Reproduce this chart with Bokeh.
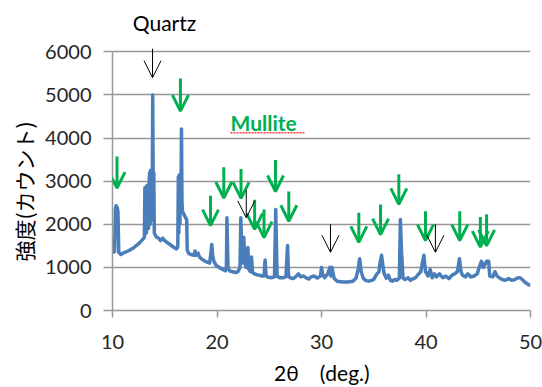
from bokeh.plotting import figure
from bokeh.models import Range1d, FixedTicker, Arrow, OpenHead, ColumnDataSource, Title
from bokeh.core.properties import value
from bokeh.embed import file_html
from bokeh.resources import INLINE

# ---- XRD pattern (2theta in degrees, intensity in counts) ----
two_theta = [
    10.0, 10.2, 10.28, 10.35, 10.45, 10.52, 10.6, 10.8, 11.0, 11.5, 12.0, 12.5, 12.9, 13.05,
    13.1, 13.15, 13.2, 13.25, 13.3, 13.35, 13.4, 13.45, 13.5, 13.55, 13.6, 13.65, 13.7,
    13.75, 13.8, 13.85, 13.9, 13.95, 14.0, 14.1, 14.2, 14.4, 14.6, 14.8, 15.0, 15.2, 15.5,
    15.8, 16.1, 16.2, 16.25, 16.3, 16.35, 16.4, 16.45, 16.5, 16.55, 16.6, 16.65, 16.7, 16.8,
    16.9, 17.0, 17.1, 17.15, 17.3, 17.5, 17.8, 17.9, 18.0, 18.2, 18.3, 18.5, 18.8, 19.0,
    19.3, 19.4, 19.5, 19.6, 19.7, 19.9, 20.2, 20.5, 20.8, 20.9, 20.95, 21.05, 21.2, 21.5,
    21.8, 22.0, 22.2, 22.28, 22.4, 22.5, 22.57, 22.65, 22.8, 22.95, 23.05, 23.2, 23.3, 23.4,
    23.6, 23.8, 24.0, 24.3, 24.5, 24.6, 24.7, 24.9, 25.2, 25.5, 25.62, 25.75, 26.0, 26.3,
    26.6, 26.75, 26.85, 27.0, 27.3, 27.6, 27.8, 28.0, 28.3, 28.5, 28.8, 29.0, 29.3, 29.6,
    29.9, 30.0, 30.1, 30.3, 30.6, 30.8, 30.9, 31.0, 31.2, 31.5, 32.0, 32.5, 33.0, 33.3,
    33.5, 33.65, 33.8, 34.0, 34.2, 34.5, 34.8, 35.0, 35.3, 35.5, 35.6, 35.75, 35.9, 36.0,
    36.2, 36.4, 36.6, 36.8, 37.0, 37.2, 37.45, 37.55, 37.65, 37.8, 38.0, 38.3, 38.5, 38.8,
    39.0, 39.3, 39.5, 39.65, 39.8, 39.95, 40.2, 40.4, 40.6, 40.8, 41.0, 41.3, 41.6, 41.9,
    42.2, 42.5, 42.8, 43.0, 43.2, 43.35, 43.5, 43.8, 44.0, 44.3, 44.6, 44.9, 45.1, 45.3,
    45.5, 45.6, 45.8, 46.0, 46.1, 46.4, 46.6, 46.8, 47.0, 47.3, 47.6, 47.9, 48.2, 48.5,
    48.8, 49.0, 49.2, 49.5, 49.8, 50.0,
]
intensity = [
    1350, 1360, 2350, 2430, 2380, 2300, 1350, 1300, 1330, 1380, 1450, 1550, 1650, 1700,
    2850, 1800, 2850, 1800, 2900, 1900, 2900, 1900, 2950, 3200, 2000, 3250, 2100,
    3200, 2500, 5000, 2500, 3200, 1800, 1750, 1700, 1680, 1620, 1680, 1620, 1580, 1530,
    1480, 1430, 1450, 1500, 3100, 1800, 3150, 2000, 3000, 2500, 4210, 2500, 2300, 2250,
    2200, 2150, 2100, 1400, 1320, 1300, 1280, 1380, 1280, 1330, 1250, 1200, 1150, 1130,
    1100, 1300, 1530, 1250, 1150, 1050, 1000, 960, 920, 1000, 2150, 1000, 920, 900,
    880, 900, 1000, 2150, 1100, 1350, 1700, 1100, 1000, 1460, 950, 900, 1240, 880,
    850, 830, 820, 800, 800, 1170, 800, 770, 760, 780, 2340, 800, 760, 760,
    780, 1510, 800, 760, 740, 800, 850, 780, 800, 760, 730, 780, 800, 750,
    800, 1000, 850, 760, 850, 1000, 800, 1000, 750, 680, 660, 660, 680, 750,
    950, 1200, 900, 750, 700, 680, 700, 720, 850, 900, 1100, 1280, 1000, 850,
    750, 820, 700, 680, 720, 700, 750, 2110, 1400, 750, 720, 760, 700, 740,
    760, 850, 900, 1100, 1280, 900, 800, 950, 760, 850, 780, 850, 760, 800,
    740, 820, 860, 900, 1200, 900, 820, 780, 850, 780, 800, 850, 1000, 1140,
    1000, 1050, 1140, 1140, 800, 780, 900, 800, 760, 720, 700, 740, 700, 720,
    760, 760, 720, 650, 600, 580,
]

# ---- peak markers (arrow x, tail intensity, tip intensity) ----
mullite_x = [10.43, 16.5, 19.38, 20.65, 22.3, 23.6, 24.5, 25.6, 26.87,
             33.57, 35.65, 37.4, 39.95, 43.23, 45.2, 45.8]
mullite_tail = [3570, 5380, 2660, 3320, 3280, 2570, 2340, 3490, 2760,
                2270, 2460, 3160, 2300, 2300, 2170, 2230]
mullite_tip = [2840, 4625, 1970, 2610, 2600, 1880, 1690, 2760, 2070,
               1580, 1760, 2460, 1620, 1620, 1470, 1500]

quartz_x = [13.83, 22.8, 30.86, 40.9]
quartz_tail = [6070, 2790, 2000, 2000]
quartz_tip = [5400, 2150, 1350, 1350]

# ---- annotation texts ----
quartz_label = ["Quartz"]
quartz_label_x = [14.98]
quartz_label_y = [6687]
mullite_label = ["Mullite"]
mullite_label_x = [21.29]
mullite_label_y = [4360]
underline_x = [21.29, 28.47]
underline_y = [4120]
y_title = "強度(カウント)"
x_title = "2θ\u3000(deg.)"

x_ticks = [10, 20, 30, 40, 50]
y_ticks = [0, 1000, 2000, 3000, 4000, 5000, 6000]

GREEN = "#00B050"
BLUE = "#4A7EBB"
GRID = "#979797"
TXT = "#262626"
LATIN = "Lato"

p = figure(width=542, height=387, output_backend="svg", toolbar_location=None,
           x_range=Range1d(10, 50), y_range=Range1d(0, 7190),
           min_border_left=112, min_border_right=12, min_border_top=0, min_border_bottom=73)
p.outline_line_color = None
p.background_fill_color = "white"
p.border_fill_color = "white"

# axes
p.xaxis.ticker = FixedTicker(ticks=x_ticks)
p.yaxis.ticker = FixedTicker(ticks=y_ticks)
p.xaxis.bounds = (x_ticks[0], x_ticks[-1])
p.yaxis.bounds = (y_ticks[0], y_ticks[-1])
for ax in (p.xaxis, p.yaxis):
    ax.axis_line_color = GRID
    ax.axis_line_width = 1.5
    ax.major_tick_line_color = GRID
    ax.major_tick_line_width = 1.5
    ax.minor_tick_line_color = None
    ax.major_tick_in = 0
    ax.major_label_text_font = LATIN
    ax.major_label_text_font_size = "20px"
    ax.major_label_text_color = TXT
    ax.axis_label_text_font_style = "normal"
    ax.axis_label_text_color = "black"
p.xaxis.major_tick_out = 7
p.yaxis.major_tick_out = 9
p.xaxis.major_label_standoff = 17
p.yaxis.major_label_standoff = 12

p.xaxis.axis_label = x_title
p.xaxis.axis_label_text_font = LATIN
p.xaxis.axis_label_text_font_size = "21px"
p.xaxis.axis_label_standoff = 8

p.xgrid.grid_line_color = None
p.ygrid.grid_line_color = GRID
p.ygrid.grid_line_width = 1.5
p.ygrid.ticker = FixedTicker(ticks=y_ticks)

# y-axis title as a side title, so it can sit lower than the frame centre
p.add_layout(Title(text=y_title, align="left", offset=49, standoff=8,
                   text_font="Noto Sans CJK JP", text_font_size="21px",
                   text_font_style="normal", text_color="black"), "left")

# pattern
p.line(two_theta, intensity, line_color=BLUE, line_width=3.5, line_join="round")

# arrows
msrc = ColumnDataSource(dict(x=mullite_x, tail=mullite_tail, tip=mullite_tip))
p.add_layout(Arrow(source=msrc, x_start="x", y_start="tail", x_end="x", y_end="tip",
                   line_color=GREEN, line_width=3,
                   end=OpenHead(size=16, line_color=GREEN, line_width=3)))
qsrc = ColumnDataSource(dict(x=quartz_x, tail=quartz_tail, tip=quartz_tip))
p.add_layout(Arrow(source=qsrc, x_start="x", y_start="tail", x_end="x", y_end="tip",
                   line_color="black", line_width=1,
                   end=OpenHead(size=17, line_color="black", line_width=1)))

# labels
p.text(x=quartz_label_x, y=quartz_label_y, text=quartz_label,
       text_align="center", text_baseline="middle",
       text_font=value(LATIN), text_font_size="21px", text_color="black")
p.text(x=mullite_label_x, y=mullite_label_y, text=mullite_label,
       text_align="left", text_baseline="alphabetic",
       text_font=value(LATIN), text_font_size="21px", text_font_style="bold",
       text_color=GREEN)
p.segment(x0=[underline_x[0]], y0=underline_y, x1=[underline_x[1]], y1=underline_y,
          line_color="#FF3B3B", line_width=1.5, line_dash="2 1")

open("out.html", "w").write(file_html(p, INLINE))
